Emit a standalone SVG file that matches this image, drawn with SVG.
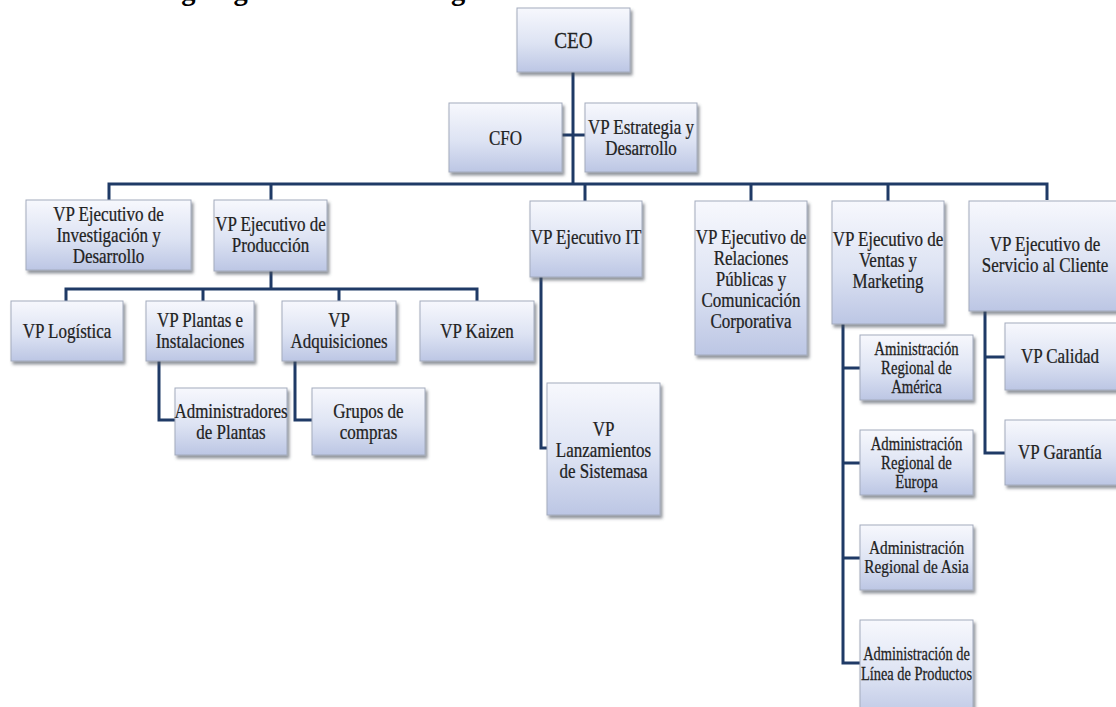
<svg xmlns="http://www.w3.org/2000/svg" width="1116" height="707" viewBox="0 0 1116 707">
<defs>
<linearGradient id="g" x1="0" y1="0" x2="0" y2="1">
<stop offset="0" stop-color="#f7f8fd"/>
<stop offset="0.55" stop-color="#dde3f3"/>
<stop offset="1" stop-color="#bcc6e4"/>
</linearGradient>
<filter id="sh" x="-10%" y="-10%" width="130%" height="130%">
<feDropShadow dx="2" dy="3" stdDeviation="1.8" flood-color="#4a4f5a" flood-opacity="0.6"/>
</filter>
</defs>
<style>
.box{fill:url(#g);stroke:#a3abbd;stroke-width:1;filter:url(#sh)}
.t{font-family:"Liberation Serif","Times New Roman",serif;font-size:20px;fill:#222;stroke:#222;stroke-width:0.25;text-anchor:middle}
.s{font-size:18px}
.c{fill:none;stroke:#1f3a66;stroke-width:3;stroke-linejoin:miter}
.title{font-family:"Liberation Serif","Times New Roman",serif;font-size:28.5px;font-weight:bold;fill:#000}
</style>
<rect width="1116" height="707" fill="#ffffff"/>
<text class="title" x="15" y="0">Gráfico 1: Organigrama de Motors general</text>

<g id="connectors">
<path class="c" d="M573 72V184"/>
<path class="c" d="M562 135H585"/>
<path class="c" d="M109 200V184H1047V200"/>
<path class="c" d="M271 184V200M585 184V201M751 184V201M888 184V201"/>
<path class="c" d="M271 271V289"/>
<path class="c" d="M66 301V289H477V301M203 289V301M339 289V301"/>
<path class="c" d="M159 361V420H175"/>
<path class="c" d="M295 361V420H312"/>
<path class="c" d="M541 277V448H547"/>
<path class="c" d="M843 324V663H860M843 368H860M843 463H860M843 558H860"/>
<path class="c" d="M985 311V453H1005M985 357H1005"/>
</g>

<g id="ceo"><rect class="box" x="517" y="8" width="113" height="64"/>
<text class="t" style="font-size:24px" transform="translate(573.5,0) scale(0.8,1)"><tspan x="0" y="48">CEO</tspan></text></g>

<g id="cfo"><rect class="box" x="449" y="103" width="113" height="69"/>
<text class="t" transform="translate(505.5,0) scale(0.85,1)"><tspan x="0" y="145">CFO</tspan></text></g>

<g id="vp-estrategia"><rect class="box" x="585" y="103" width="112" height="69"/>
<text class="t" transform="translate(641,0) scale(0.85,1)"><tspan x="0" y="134">VP Estrategia y</tspan><tspan x="0" y="155">Desarrollo</tspan></text></g>

<g id="vp-investigacion"><rect class="box" x="26" y="200" width="165" height="70"/>
<text class="t" transform="translate(108.5,0) scale(0.85,1)"><tspan x="0" y="221">VP Ejecutivo de</tspan><tspan x="0" y="242">Investigación y</tspan><tspan x="0" y="263">Desarrollo</tspan></text></g>

<g id="vp-produccion"><rect class="box" x="214" y="200" width="113" height="71"/>
<text class="t" transform="translate(270.5,0) scale(0.85,1)"><tspan x="0" y="231.5">VP Ejecutivo de</tspan><tspan x="0" y="252.5">Producción</tspan></text></g>

<g id="vp-it"><rect class="box" x="530" y="201" width="112" height="76"/>
<text class="t" transform="translate(586,0) scale(0.85,1)"><tspan x="0" y="244">VP Ejecutivo IT</tspan></text></g>

<g id="vp-relaciones"><rect class="box" x="695" y="201" width="112" height="154"/>
<text class="t" transform="translate(751,0) scale(0.85,1)"><tspan x="0" y="244">VP Ejecutivo de</tspan><tspan x="0" y="265">Relaciones</tspan><tspan x="0" y="286">Públicas y</tspan><tspan x="0" y="307">Comunicación</tspan><tspan x="0" y="328">Corporativa</tspan></text></g>

<g id="vp-ventas"><rect class="box" x="832" y="201" width="112" height="123"/>
<text class="t" transform="translate(888,0) scale(0.85,1)"><tspan x="0" y="246">VP Ejecutivo de</tspan><tspan x="0" y="267">Ventas y</tspan><tspan x="0" y="288">Marketing</tspan></text></g>

<g id="vp-servicio"><rect class="box" x="969" y="201" width="160" height="110"/>
<text class="t" transform="translate(1045,0) scale(0.85,1)"><tspan x="0" y="251">VP Ejecutivo de</tspan><tspan x="0" y="272">Servicio al Cliente</tspan></text></g>

<g id="vp-logistica"><rect class="box" x="11" y="301" width="112" height="60"/>
<text class="t" transform="translate(67,0) scale(0.85,1)"><tspan x="0" y="338">VP Logística</tspan></text></g>

<g id="vp-plantas"><rect class="box" x="146" y="301" width="108" height="60"/>
<text class="t" transform="translate(200,0) scale(0.85,1)"><tspan x="0" y="327.5">VP Plantas e</tspan><tspan x="0" y="348.5">Instalaciones</tspan></text></g>

<g id="vp-adquisiciones"><rect class="box" x="282" y="301" width="114" height="60"/>
<text class="t" transform="translate(339,0) scale(0.85,1)"><tspan x="0" y="327.5">VP</tspan><tspan x="0" y="348.5">Adquisiciones</tspan></text></g>

<g id="vp-kaizen"><rect class="box" x="420" y="301" width="114" height="60"/>
<text class="t" transform="translate(477,0) scale(0.85,1)"><tspan x="0" y="338">VP Kaizen</tspan></text></g>

<g id="administradores"><rect class="box" x="175" y="388" width="112" height="67"/>
<text class="t" transform="translate(231,0) scale(0.85,1)"><tspan x="0" y="418">Administradores</tspan><tspan x="0" y="439">de Plantas</tspan></text></g>

<g id="grupos"><rect class="box" x="312" y="388" width="113" height="67"/>
<text class="t" transform="translate(368.5,0) scale(0.85,1)"><tspan x="0" y="418">Grupos de</tspan><tspan x="0" y="439">compras</tspan></text></g>

<g id="vp-lanzamientos"><rect class="box" x="547" y="383" width="113" height="132"/>
<text class="t" transform="translate(603.5,0) scale(0.85,1)"><tspan x="0" y="436">VP</tspan><tspan x="0" y="457">Lanzamientos</tspan><tspan x="0" y="478">de Sistemasa</tspan></text></g>

<g id="america"><rect class="box" x="860" y="335" width="113" height="65"/>
<text class="t s" transform="translate(916.5,0) scale(0.82,1)"><tspan x="0" y="355.5">Aministración</tspan><tspan x="0" y="374.5">Regional de</tspan><tspan x="0" y="393.5">América</tspan></text></g>

<g id="europa"><rect class="box" x="860" y="430" width="113" height="65"/>
<text class="t s" transform="translate(916.5,0) scale(0.82,1)"><tspan x="0" y="450.5">Administración</tspan><tspan x="0" y="469.5">Regional de</tspan><tspan x="0" y="488.5">Europa</tspan></text></g>

<g id="asia"><rect class="box" x="860" y="525" width="113" height="65"/>
<text class="t s" transform="translate(916.5,0) scale(0.85,1)"><tspan x="0" y="554.5">Administración</tspan><tspan x="0" y="573.5">Regional de Asia</tspan></text></g>

<g id="linea"><rect class="box" x="860" y="620" width="113" height="100"/>
<text class="t s" transform="translate(916.5,0) scale(0.8,1)"><tspan x="0" y="660">Administración de</tspan><tspan x="0" y="680">Línea de Productos</tspan></text></g>

<g id="vp-calidad"><rect class="box" x="1005" y="323" width="120" height="67"/>
<text class="t" transform="translate(1060,0) scale(0.85,1)"><tspan x="0" y="363">VP Calidad</tspan></text></g>

<g id="vp-garantia"><rect class="box" x="1005" y="420" width="120" height="65"/>
<text class="t" transform="translate(1060,0) scale(0.85,1)"><tspan x="0" y="459">VP Garantía</tspan></text></g>
</svg>
